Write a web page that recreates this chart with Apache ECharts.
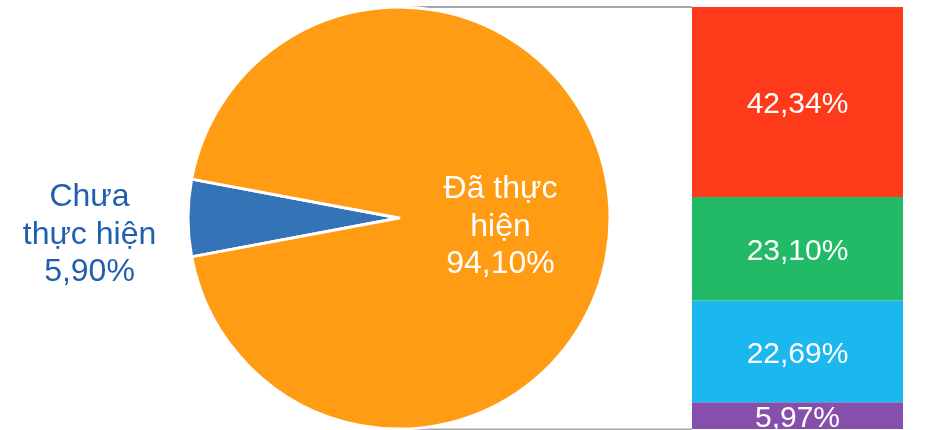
<!DOCTYPE html>
<html>
<head>
<meta charset="utf-8">
<script src="https://cdn.jsdelivr.net/npm/echarts@6/dist/echarts.min.js"></script>
<style>html,body{margin:0;padding:0;background:#fff}#c{width:943px;height:430px}</style>
</head>
<body>
<div id="c"></div>
<script>
var pieNames = ['Chưa\nthực hiện', 'Đã thực\nhiện'];
var pieValues = [5.90, 94.10];
var pieColors = ['#3474B6', '#FF9C14'];
var barValues = [5.97, 22.69, 23.10, 42.34]; // bottom to top
var barColors = ['#864FAB', '#1BB7EF', '#22BA66', '#FF3A1B'];
var fmt = function (v) { return v.toFixed(2).replace('.', ',') + '%'; };

var chart = echarts.init(document.getElementById('c'), null, {renderer: 'canvas'});
var total = barValues.reduce(function (a, b) { return a + b; }, 0);
var startAngle = 180 + pieValues[0] / 100 * 360 / 2;

var series = [{
  type: 'pie',
  center: [399, 218],
  radius: 211,
  startAngle: startAngle,
  clockwise: true,
  animation: false,
  itemStyle: {borderColor: '#fff', borderWidth: 3},
  label: {show: true, position: 'inside', fontFamily: 'Liberation Sans', fontSize: 32, lineHeight: 37.5, align: 'center'},
  labelLine: {show: false},
  labelLayout: function (p) {
    if (p.dataIndex === 0) return {dx: -201, dy: 17};
    return {dx: -7, dy: 9};
  },
  emphasis: {disabled: true},
  data: pieValues.map(function (v, i) {
    return {
      value: v, name: pieNames[i],
      itemStyle: {color: pieColors[i]},
      label: {formatter: pieNames[i] + '\n' + fmt(v), color: i === 0 ? '#1F5FAE' : '#fff'}
    };
  })
}];
barValues.forEach(function (v, i) {
  series.push({
    type: 'bar', stack: 's', barWidth: '100%', animation: false,
    xAxisIndex: 0, yAxisIndex: 0,
    itemStyle: {color: barColors[i]},
    label: {show: true, position: 'inside', offset: [0, 3], color: '#fff', fontFamily: 'Liberation Sans', fontSize: 30, formatter: function (p) { return fmt(p.value); }},
    data: [v]
  });
});

chart.setOption({
  backgroundColor: '#fff',
  grid: {left: 692, top: 7, width: 211, height: 422},
  xAxis: {type: 'category', data: [''], show: false},
  yAxis: {type: 'value', min: 0, max: total, show: false},
  graphic: [
    {type: 'line', z: -1, shape: {x1: 405, y1: 7, x2: 692, y2: 7}, style: {stroke: '#A6A6A6', lineWidth: 2}},
    {type: 'line', z: -1, shape: {x1: 399, y1: 429.5, x2: 692, y2: 429.5}, style: {stroke: '#A6A6A6', lineWidth: 2}}
  ],
  series: series
});
</script>
</body>
</html>
